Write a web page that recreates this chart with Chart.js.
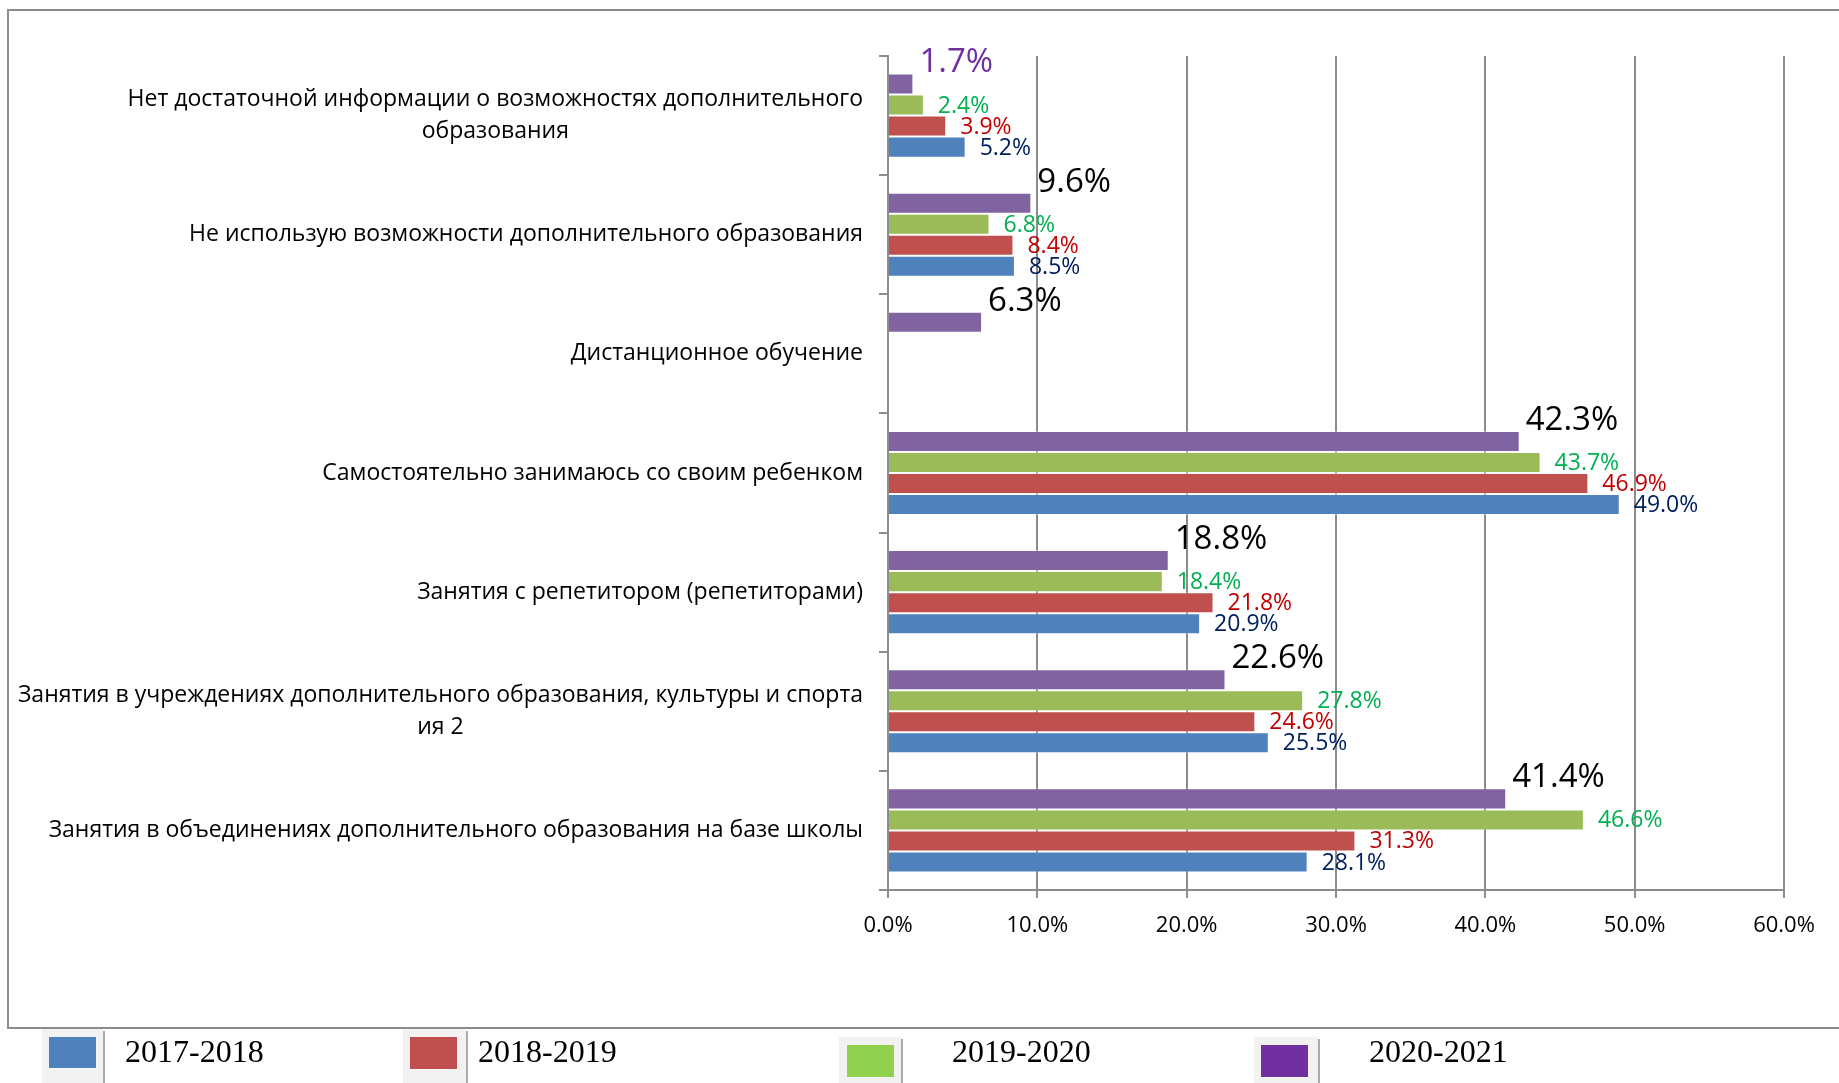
<!DOCTYPE html>
<html>
<head>
<meta charset="utf-8">
<script src="https://cdn.jsdelivr.net/npm/chart.js@4"></script>
<style>
  html, body { margin:0; padding:0; background:#fff; overflow:hidden; }
  #wrap { position:relative; width:1839px; height:1083px; }
  #frame { position:absolute; left:7px; top:9px; width:1900px; height:1020px; border:2px solid #8c8c8c; box-sizing:border-box; }
  canvas { position:absolute; left:0; top:0; }
  .lp { position:absolute; background:#f2f2f2; }
  .lb { position:absolute; }
  .lt { position:absolute; font-family:"Liberation Serif","Times New Roman",serif; font-size:32px; line-height:32px; color:#000; white-space:nowrap; }
</style>
</head>
<body>
<div id="wrap">
  <div id="frame"></div>
  <canvas id="c" width="1839" height="1083"></canvas>
  <div id="legend"></div>
</div>
<script>
// ---- data ----
const categories = [
  ["Нет достаточной информации о возможностях дополнительного", "образования"],
  ["Не использую возможности дополнительного образования"],
  ["Дистанционное обучение"],
  ["Самостоятельно занимаюсь со своим ребенком"],
  ["Занятия с репетитором (репетиторами)"],
  ["Занятия в учреждениях дополнительного образования, культуры и спорта", "ия 2"],
  ["Занятия в объединениях дополнительного образования на базе школы"]
];
const seriesNames = ["2017-2018", "2018-2019", "2019-2020", "2020-2021"];
const values2017_2018 = [5.2, 8.5, null, 49.0, 20.9, 25.5, 28.1];
const values2018_2019 = [3.9, 8.4, null, 46.9, 21.8, 24.6, 31.3];
const values2019_2020 = [2.4, 6.8, null, 43.7, 18.4, 27.8, 46.6];
const values2020_2021 = [1.7, 9.6, 6.3, 42.3, 18.8, 22.6, 41.4];
const xTicks = [0, 10, 20, 30, 40, 50, 60];

// ---- styles ----
const barColors = ["#4F81BD", "#C0504D", "#9BBB59", "#8064A2"];
const legendColors = ["#4F81BD", "#C0504D", "#92D050", "#7030A0"];
const labelColors = ["#002060", "#C00000", "#00B050", "#000000"];
const gridColor = "#8c8c8c";
const FONT = "'Open Sans', 'Noto Sans', sans-serif";

const seriesValues = [values2017_2018, values2018_2019, values2019_2020, values2020_2021];
// top-to-bottom within each category: 2020-2021 first
const order = [3, 2, 1, 0];
const datasets = order.map(i => ({
  label: seriesNames[i],
  data: seriesValues[i],
  backgroundColor: barColors[i],
  borderColor: "rgba(255,255,255,0.35)",
  borderWidth: 1,
  seriesIndex: i,
  categoryPercentage: 0.706,
  barPercentage: 1.0
}));

const yLabelPlugin = {
  id: 'yLabels',
  afterDraw(chart) {
    const ctx = chart.ctx, ys = chart.scales.y;
    const rightX = chart.chartArea.left - 25;
    ctx.save();
    ctx.font = "23px " + FONT;
    ctx.fillStyle = "#000";
    ctx.textBaseline = "middle";
    ctx.textAlign = "center";
    const lh = 32;
    categories.forEach((lines, i) => {
      const cy = ys.getPixelForValue(i);
      const w = Math.max(...lines.map(l => ctx.measureText(l).width));
      const cx = rightX - w / 2;
      const y0 = cy - (lines.length - 1) * lh / 2;
      lines.forEach((l, k) => ctx.fillText(l, cx, y0 + k * lh));
    });
    ctx.restore();
  }
};

const valueLabelPlugin = {
  id: 'valueLabels',
  afterDatasetsDraw(chart) {
    const ctx = chart.ctx;
    ctx.save();
    ctx.textBaseline = "middle";
    ctx.textAlign = "left";
    chart.data.datasets.forEach((ds, di) => {
      const meta = chart.getDatasetMeta(di);
      const s = ds.seriesIndex;
      meta.data.forEach((el, j) => {
        const v = ds.data[j];
        if (v === null || v === undefined) return;
        const txt = v.toFixed(1) + "%";
        if (s === 3) {
          ctx.font = "33px " + FONT;
          ctx.fillStyle = j === 0 ? "#7030A0" : "#000";
          ctx.fillText(txt, el.x + 6, el.y - 21);
        } else {
          ctx.font = "23px " + FONT;
          ctx.fillStyle = labelColors[s];
          ctx.fillText(txt, el.x + 14, el.y + 1);
        }
      });
    });
    ctx.restore();
  }
};

new Chart(document.getElementById('c'), {
  type: 'bar',
  data: { labels: categories.map(c => c.join(' ')), datasets },
  options: {
    indexAxis: 'y',
    responsive: false,
    animation: false,
    devicePixelRatio: 1,
    layout: { padding: { left: 0, right: 55, top: 56, bottom: 133 } },
    plugins: { legend: { display: false }, tooltip: { enabled: false } },
    scales: {
      x: {
        min: 0, max: 60,
        afterBuildTicks: s => { s.ticks = xTicks.map(v => ({ value: v })); },
        afterFit: s => { s.height = 60; },
        ticks: {
          font: { family: FONT, size: 22 }, color: "#000", padding: 15,
          callback: v => Number(v).toFixed(1) + "%"
        },
        grid: { color: gridColor, lineWidth: 2, drawTicks: true, tickLength: 8, tickColor: gridColor },
        border: { display: true, color: gridColor, width: 2 }
      },
      y: {
        afterFit: s => { s.width = 888; },
        ticks: { display: false },
        grid: { display: true, drawOnChartArea: false, drawTicks: true, tickLength: 9, offset: true, color: gridColor, lineWidth: 2 },
        border: { display: true, color: gridColor, width: 2 }
      }
    }
  },
  plugins: [yLabelPlugin, valueLabelPlugin]
});

// ---- legend (HTML) ----
const legendLayout = [
  { panel: [42, 1029, 61, 60], box: [49, 1037, 47, 31], text: [125, 1035] },
  { panel: [403, 1029, 63, 60], box: [410, 1037, 47, 32], text: [478, 1035] },
  { panel: [839, 1037, 62, 50], box: [847, 1045, 47, 32], text: [952, 1035] },
  { panel: [1254, 1037, 64, 50], box: [1261, 1045, 47, 32], text: [1369, 1035] }
];
const lg = document.getElementById('legend');
seriesNames.forEach((name, i) => {
  const L = legendLayout[i];
  const p = document.createElement('div');
  p.className = 'lp';
  Object.assign(p.style, { left: L.panel[0] + 'px', top: L.panel[1] + 'px', width: L.panel[2] + 'px', height: L.panel[3] + 'px', boxShadow: '2px 2px 0 #b0a8a8' });
  lg.appendChild(p);
  const b = document.createElement('div');
  b.className = 'lb';
  Object.assign(b.style, { left: L.box[0] + 'px', top: L.box[1] + 'px', width: L.box[2] + 'px', height: L.box[3] + 'px', background: legendColors[i], boxShadow: '0 1px 0 rgba(255,255,255,0.6)' });
  lg.appendChild(b);
  const t = document.createElement('div');
  t.className = 'lt';
  t.textContent = name;
  Object.assign(t.style, { left: L.text[0] + 'px', top: L.text[1] + 'px' });
  lg.appendChild(t);
});
</script>
</body>
</html>
